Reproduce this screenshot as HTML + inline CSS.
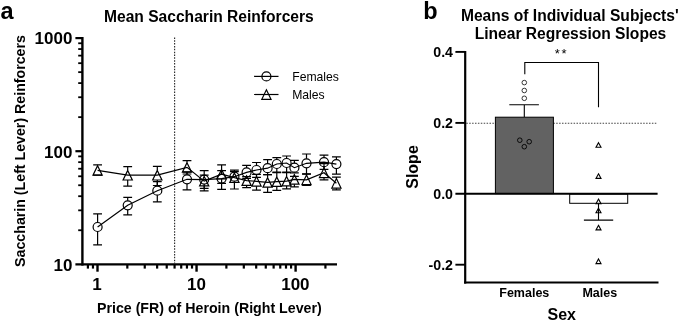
<!DOCTYPE html>
<html><head><meta charset="utf-8"><title>Figure</title>
<style>
html,body{margin:0;padding:0;background:#fff}
body{width:685px;height:322px;position:relative;overflow:hidden;font-family:'Liberation Sans',sans-serif;color:#000}
div{font-family:'Liberation Sans',sans-serif}
</style></head><body>
<svg width="685" height="322" viewBox="0 0 685 322" style="position:absolute;left:0;top:0"><rect width="685" height="322" fill="#fff"/><line x1="174.6" y1="37.4" x2="174.6" y2="263.2" stroke="#2a2a2a" stroke-width="1.15" stroke-dasharray="1.5 1.35"/><g stroke="#000" fill="none"><line x1="82.4" y1="37" x2="82.4" y2="265.6" stroke-width="2.4"/><line x1="75.4" y1="264.4" x2="337" y2="264.4" stroke-width="2.4"/><line x1="78.2" y1="230.25" x2="82.4" y2="230.25" stroke-width="1.8"/><line x1="78.2" y1="210.34" x2="82.4" y2="210.34" stroke-width="1.8"/><line x1="78.2" y1="196.21" x2="82.4" y2="196.21" stroke-width="1.8"/><line x1="78.2" y1="185.25" x2="82.4" y2="185.25" stroke-width="1.8"/><line x1="78.2" y1="176.29" x2="82.4" y2="176.29" stroke-width="1.8"/><line x1="78.2" y1="168.72" x2="82.4" y2="168.72" stroke-width="1.8"/><line x1="78.2" y1="162.16" x2="82.4" y2="162.16" stroke-width="1.8"/><line x1="78.2" y1="156.38" x2="82.4" y2="156.38" stroke-width="1.8"/><line x1="75.4" y1="151.20" x2="82.4" y2="151.20" stroke-width="2.2"/><line x1="78.2" y1="117.15" x2="82.4" y2="117.15" stroke-width="1.8"/><line x1="78.2" y1="97.24" x2="82.4" y2="97.24" stroke-width="1.8"/><line x1="78.2" y1="83.11" x2="82.4" y2="83.11" stroke-width="1.8"/><line x1="78.2" y1="72.15" x2="82.4" y2="72.15" stroke-width="1.8"/><line x1="78.2" y1="63.19" x2="82.4" y2="63.19" stroke-width="1.8"/><line x1="78.2" y1="55.62" x2="82.4" y2="55.62" stroke-width="1.8"/><line x1="78.2" y1="49.06" x2="82.4" y2="49.06" stroke-width="1.8"/><line x1="78.2" y1="43.28" x2="82.4" y2="43.28" stroke-width="1.8"/><line x1="75.4" y1="38.10" x2="82.4" y2="38.10" stroke-width="2.2"/><line x1="97.50" y1="264.4" x2="97.50" y2="271.7" stroke-width="2.4"/><line x1="127.32" y1="264.4" x2="127.32" y2="268.6" stroke-width="2.2"/><line x1="144.76" y1="264.4" x2="144.76" y2="268.6" stroke-width="2.2"/><line x1="157.13" y1="264.4" x2="157.13" y2="268.6" stroke-width="2.2"/><line x1="166.73" y1="264.4" x2="166.73" y2="268.6" stroke-width="2.2"/><line x1="174.58" y1="264.4" x2="174.58" y2="268.6" stroke-width="2.2"/><line x1="181.21" y1="264.4" x2="181.21" y2="268.6" stroke-width="2.2"/><line x1="186.95" y1="264.4" x2="186.95" y2="268.6" stroke-width="2.2"/><line x1="192.02" y1="264.4" x2="192.02" y2="268.6" stroke-width="2.2"/><line x1="196.55" y1="264.4" x2="196.55" y2="271.7" stroke-width="2.4"/><line x1="226.37" y1="264.4" x2="226.37" y2="268.6" stroke-width="2.2"/><line x1="243.81" y1="264.4" x2="243.81" y2="268.6" stroke-width="2.2"/><line x1="256.18" y1="264.4" x2="256.18" y2="268.6" stroke-width="2.2"/><line x1="265.78" y1="264.4" x2="265.78" y2="268.6" stroke-width="2.2"/><line x1="273.63" y1="264.4" x2="273.63" y2="268.6" stroke-width="2.2"/><line x1="280.26" y1="264.4" x2="280.26" y2="268.6" stroke-width="2.2"/><line x1="286.00" y1="264.4" x2="286.00" y2="268.6" stroke-width="2.2"/><line x1="291.07" y1="264.4" x2="291.07" y2="268.6" stroke-width="2.2"/><line x1="295.60" y1="264.4" x2="295.60" y2="271.7" stroke-width="2.4"/><line x1="325.42" y1="264.4" x2="325.42" y2="268.6" stroke-width="2.2"/><line x1="87.90" y1="264.4" x2="87.90" y2="268.6" stroke-width="2.2"/><line x1="92.97" y1="264.4" x2="92.97" y2="268.6" stroke-width="2.2"/></g><g stroke="#000" stroke-width="1.2" fill="none" stroke-linejoin="miter"><polyline points="97.6,227.0 127.69999999999999,205.3 157.29999999999998,190.70000000000002 187.0,179.3 204.2,179.6 221.6,178.6 234.4,176.70000000000002 246.6,172.4 256.5,170.0 267.6,168.20000000000002 276.8,164.0 286.6,163.0 294.40000000000003,167.70000000000002 306.5,163.3 324.0,162.20000000000002 336.40000000000003,164.1"/><polyline points="97.6,170.4 127.69999999999999,175.20000000000002 157.29999999999998,175.20000000000002 187.0,167.4 204.2,181.1 221.6,174.20000000000002 234.4,177.70000000000002 246.6,180.6 256.5,181.3 267.6,182.4 276.8,181.6 286.6,181.1 294.40000000000003,179.4 306.5,179.8 324.0,172.8 336.40000000000003,183.3"/><path d="M97.6 213.9V222.5M97.6 231.5V244.9M93.19999999999999 213.9H102.0M93.19999999999999 244.9H102.0"/><circle cx="97.6" cy="227.0" r="4.5"/><path d="M97.6 164.8V165.5M97.6 175.3V175.2M93.19999999999999 164.8H102.0M93.19999999999999 175.2H102.0"/><path d="M97.6 165.70L102.20 175.20H93.00Z"/><path d="M127.69999999999999 197.4V200.8M127.69999999999999 209.8V214.9M123.29999999999998 197.4H132.1M123.29999999999998 214.9H132.1"/><circle cx="127.69999999999999" cy="205.3" r="4.5"/><path d="M127.69999999999999 166.7V170.29999999999998M127.69999999999999 180.1V186.2M123.29999999999998 166.7H132.1M123.29999999999998 186.2H132.1"/><path d="M127.69999999999999 170.50L132.30 180.00H123.10Z"/><path d="M157.29999999999998 181.7V186.2M157.29999999999998 195.2V201.8M152.89999999999998 181.7H161.7M152.89999999999998 201.8H161.7"/><circle cx="157.29999999999998" cy="190.7" r="4.5"/><path d="M157.29999999999998 166.4V170.29999999999998M157.29999999999998 180.1V185.5M152.89999999999998 166.4H161.7M152.89999999999998 185.5H161.7"/><path d="M157.29999999999998 170.50L161.90 180.00H152.70Z"/><path d="M187.0 171.9V174.8M187.0 183.8V189.9M182.6 171.9H191.4M182.6 189.9H191.4"/><circle cx="187.0" cy="179.3" r="4.5"/><path d="M187.0 160.7V162.5M187.0 172.3V174.0M182.6 160.7H191.4M182.6 174.0H191.4"/><path d="M187.0 162.70L191.60 172.20H182.40Z"/><path d="M204.2 170.7V175.1M204.2 184.1V190.8M199.79999999999998 170.7H208.6M199.79999999999998 190.8H208.6"/><circle cx="204.2" cy="179.6" r="4.5"/><path d="M204.2 175.2V176.2M204.2 186.0V188.3M199.79999999999998 175.2H208.6M199.79999999999998 188.3H208.6"/><path d="M204.2 176.40L208.80 185.90H199.60Z"/><path d="M221.6 170.7V174.1M221.6 183.1V189.3M217.2 170.7H226.0M217.2 189.3H226.0"/><circle cx="221.6" cy="178.6" r="4.5"/><path d="M221.6 164.8V169.29999999999998M221.6 179.1V183.4M217.2 164.8H226.0M217.2 183.4H226.0"/><path d="M221.6 169.50L226.20 179.00H217.00Z"/><path d="M234.4 170.2V172.2M234.4 181.2V182.4M230.0 170.2H238.8M230.0 182.4H238.8"/><circle cx="234.4" cy="176.7" r="4.5"/><path d="M234.4 171.7V172.79999999999998M234.4 182.6V189.0M230.0 171.7H238.8M230.0 189.0H238.8"/><path d="M234.4 173.00L239.00 182.50H229.80Z"/><path d="M246.6 165.4V167.9M246.6 176.9V178.4M242.2 165.4H251.0M242.2 178.4H251.0"/><circle cx="246.6" cy="172.4" r="4.5"/><path d="M246.6 176.6V175.7M246.6 185.5V187.6M242.2 176.6H251.0M242.2 187.6H251.0"/><path d="M246.6 175.90L251.20 185.40H242.00Z"/><path d="M256.5 162.5V165.5M256.5 174.5V177.4M252.1 162.5H260.9M252.1 177.4H260.9"/><circle cx="256.5" cy="170.0" r="4.5"/><path d="M256.5 174.4V176.4M256.5 186.20000000000002V190.2M252.1 174.4H260.9M252.1 190.2H260.9"/><path d="M256.5 176.60L261.10 186.10H251.90Z"/><path d="M267.6 159.7V163.7M267.6 172.7V174.7M263.20000000000005 159.7H272.0M263.20000000000005 174.7H272.0"/><circle cx="267.6" cy="168.2" r="4.5"/><path d="M267.6 174.7V177.5M267.6 187.3V192.4M263.20000000000005 174.7H272.0M263.20000000000005 192.4H272.0"/><path d="M267.6 177.70L272.20 187.20H263.00Z"/><path d="M276.8 157.7V159.5M276.8 168.5V172.6M272.40000000000003 157.7H281.2M272.40000000000003 172.6H281.2"/><circle cx="276.8" cy="164.0" r="4.5"/><path d="M276.8 172.2V176.7M276.8 186.5V190.4M272.40000000000003 172.2H281.2M272.40000000000003 190.4H281.2"/><path d="M276.8 176.90L281.40 186.40H272.20Z"/><path d="M286.6 156.0V158.5M286.6 167.5V172.6M282.20000000000005 156.0H291.0M282.20000000000005 172.6H291.0"/><circle cx="286.6" cy="163.0" r="4.5"/><path d="M286.6 172.2V176.2M286.6 186.0V188.9M282.20000000000005 172.2H291.0M282.20000000000005 188.9H291.0"/><path d="M286.6 176.40L291.20 185.90H282.00Z"/><path d="M294.40000000000003 160.3V163.2M294.40000000000003 172.2V172.8M290.00000000000006 160.3H298.8M290.00000000000006 172.8H298.8"/><circle cx="294.40000000000003" cy="167.7" r="4.5"/><path d="M294.40000000000003 176.4V174.5M294.40000000000003 184.3V186.8M290.00000000000006 176.4H298.8M290.00000000000006 186.8H298.8"/><path d="M294.40000000000003 174.70L299.00 184.20H289.80Z"/><path d="M306.5 154.0V158.8M306.5 167.8V173.9M302.1 154.0H310.9M302.1 173.9H310.9"/><circle cx="306.5" cy="163.3" r="4.5"/><path d="M306.5 174.2V174.9M306.5 184.70000000000002V185.4M302.1 174.2H310.9M302.1 185.4H310.9"/><path d="M306.5 175.10L311.10 184.60H301.90Z"/><path d="M324.0 155.2V157.7M324.0 166.7V169.4M319.6 155.2H328.4M319.6 169.4H328.4"/><circle cx="324.0" cy="162.2" r="4.5"/><path d="M324.0 163.7V167.9M324.0 177.70000000000002V179.8M319.6 163.7H328.4M319.6 179.8H328.4"/><path d="M324.0 168.10L328.60 177.60H319.40Z"/><path d="M336.40000000000003 156.8V159.6M336.40000000000003 168.6V174.1M332.00000000000006 156.8H340.8M332.00000000000006 174.1H340.8"/><circle cx="336.40000000000003" cy="164.1" r="4.5"/><path d="M336.40000000000003 177.2V178.4M336.40000000000003 188.20000000000002V189.8M332.00000000000006 177.2H340.8M332.00000000000006 189.8H340.8"/><path d="M336.40000000000003 178.60L341.00 188.10H331.80Z"/><line x1="254.1" y1="76.4" x2="278.5" y2="76.4"/><circle cx="266.4" cy="76.4" r="4.5"/><line x1="254.1" y1="94.5" x2="278.5" y2="94.5"/><path d="M266.4 89.8L271.0 99.3H261.79999999999995Z"/></g><line x1="466.3" y1="123.2" x2="657.6" y2="123.2" stroke="#444" stroke-width="1.15" stroke-dasharray="1.5 1.4"/><rect x="495.4" y="117.2" width="58" height="76.4" fill="#626262" stroke="#000" stroke-width="1"/><rect x="569.7" y="194" width="58" height="9.3" fill="#fff" stroke="#000" stroke-width="1"/><g stroke="#000" fill="none"><line x1="465.2" y1="51" x2="465.2" y2="283.6" stroke-width="2.2"/><line x1="464.1" y1="282.5" x2="658.5" y2="282.5" stroke-width="2.2"/><line x1="455.4" y1="193.8" x2="657.6" y2="193.8" stroke-width="2.1"/><line x1="455.4" y1="51.9" x2="465.2" y2="51.9" stroke-width="1.9"/><line x1="455.4" y1="122.9" x2="465.2" y2="122.9" stroke-width="1.9"/><line x1="455.4" y1="264.7" x2="465.2" y2="264.7" stroke-width="1.9"/><path d="M524.3 117.1V104.7M509.3 104.7H538.9" stroke-width="1.1"/><path d="M598.5 203.5V220.1M583.9 220.1H613.2" stroke-width="1.1"/><path d="M524.8 74.2V62.5H598.5V107.3" stroke-width="1.1"/><circle cx="524.3" cy="82.6" r="2.3" stroke-width="0.9" stroke="#222"/><circle cx="524.3" cy="90.5" r="2.3" stroke-width="0.9" stroke="#222"/><circle cx="524.3" cy="98.3" r="2.3" stroke-width="0.9" stroke="#222"/><circle cx="519.8" cy="140.2" r="2.3" stroke-width="0.9"/><circle cx="529.2" cy="141.7" r="2.3" stroke-width="0.9"/><circle cx="524.3" cy="146.7" r="2.3" stroke-width="0.9"/><path d="M598.5 142.7L601.0 147.3H596.0Z" stroke-width="1.1"/><path d="M598.5 173.79999999999998L601.0 178.4H596.0Z" stroke-width="1.1"/><path d="M598.5 199.1L601.0 203.70000000000002H596.0Z" stroke-width="1.1"/><path d="M598.5 208.2L601.0 212.8H596.0Z" stroke-width="1.1"/><path d="M598.5 225.29999999999998L601.0 229.9H596.0Z" stroke-width="1.1"/><path d="M598.5 259.0L601.0 263.6H596.0Z" stroke-width="1.1"/></g></svg>
<div style="position:absolute;left:0;top:0;width:685px;height:322px;will-change:transform"><div style="position:absolute;left:0.6px;top:-1.97px;font-size:23.5px;font-weight:bold;line-height:27.002px;white-space:nowrap;">a</div><div style="position:absolute;left:423.3px;top:-2.07px;font-size:23.5px;font-weight:bold;line-height:27.002px;white-space:nowrap;">b</div><div style="position:absolute;left:104.0px;top:7.68px;font-size:15.6px;font-weight:bold;line-height:17.924px;white-space:nowrap;">Mean Saccharin Reinforcers</div><div style="position:absolute;left:569.8px;top:7.18px;font-size:15.6px;font-weight:bold;line-height:17.924px;white-space:nowrap;transform:translateX(-50%);">Means of Individual Subjects'</div><div style="position:absolute;left:570.5px;top:25.28px;font-size:15.6px;font-weight:bold;line-height:17.924px;white-space:nowrap;transform:translateX(-50%);">Linear Regression Slopes</div><div style="position:absolute;right:612.6px;top:28.52px;font-size:17px;font-weight:bold;line-height:19.533px;white-space:nowrap;">1000</div><div style="position:absolute;right:612.6px;top:142.91px;font-size:17px;font-weight:bold;line-height:19.533px;white-space:nowrap;">100</div><div style="position:absolute;right:612.6px;top:255.71px;font-size:17px;font-weight:bold;line-height:19.533px;white-space:nowrap;">10</div><div style="position:absolute;left:96.89999999999999px;top:275.42px;font-size:17px;font-weight:bold;line-height:19.533px;white-space:nowrap;transform:translateX(-50%);">1</div><div style="position:absolute;left:196.4px;top:275.42px;font-size:17px;font-weight:bold;line-height:19.533px;white-space:nowrap;transform:translateX(-50%);">10</div><div style="position:absolute;left:295.40000000000003px;top:275.42px;font-size:17px;font-weight:bold;line-height:19.533px;white-space:nowrap;transform:translateX(-50%);">100</div><div style="position:absolute;left:97.0px;top:299.55px;font-size:14.2px;font-weight:bold;line-height:16.316px;white-space:nowrap;">Price (FR) of Heroin (Right Lever)</div><div style="position:absolute;left:292.2px;top:70.46px;font-size:12.2px;font-weight:normal;line-height:14.018px;white-space:nowrap;">Females</div><div style="position:absolute;left:292.2px;top:87.66px;font-size:12.2px;font-weight:normal;line-height:14.018px;white-space:nowrap;">Males</div><div style="position:absolute;right:232.0px;top:44.15px;font-size:14.2px;font-weight:bold;line-height:16.316px;white-space:nowrap;">0.4</div><div style="position:absolute;right:232.0px;top:115.15px;font-size:14.2px;font-weight:bold;line-height:16.316px;white-space:nowrap;">0.2</div><div style="position:absolute;right:232.0px;top:186.05px;font-size:14.2px;font-weight:bold;line-height:16.316px;white-space:nowrap;">0.0</div><div style="position:absolute;right:232.0px;top:256.95px;font-size:14.2px;font-weight:bold;line-height:16.316px;white-space:nowrap;">-0.2</div><div style="position:absolute;left:524.3px;top:285.89px;font-size:12.5px;font-weight:bold;line-height:14.363px;white-space:nowrap;transform:translateX(-50%);">Females</div><div style="position:absolute;left:599.8px;top:285.89px;font-size:12.5px;font-weight:bold;line-height:14.363px;white-space:nowrap;transform:translateX(-50%);">Males</div><div style="position:absolute;left:561.7px;top:306.42px;font-size:16px;font-weight:bold;line-height:18.384px;white-space:nowrap;transform:translateX(-50%);">Sex</div><div style="position:absolute;left:561.5px;top:46.63px;font-size:13px;font-weight:normal;line-height:14.937px;white-space:nowrap;transform:translateX(-50%);letter-spacing:1.8px;">**</div><div style="position:absolute;left:25.0px;top:151.4px;width:0;height:0"><div style="position:absolute;left:0;top:0;transform:rotate(-90deg);transform-origin:0 0;"><div style="position:absolute;left:0;top:-12.85px;transform:translateX(-50%);font-size:14.2px;font-weight:bold;line-height:16.316px;white-space:nowrap">Saccharin (Left Lever) Reinforcers</div></div></div><div style="position:absolute;left:418.2px;top:167.2px;width:0;height:0"><div style="position:absolute;left:0;top:0;transform:rotate(-90deg);transform-origin:0 0;"><div style="position:absolute;left:0;top:-14.48px;transform:translateX(-50%);font-size:16px;font-weight:bold;line-height:18.384px;white-space:nowrap">Slope</div></div></div></div>
</body></html>
